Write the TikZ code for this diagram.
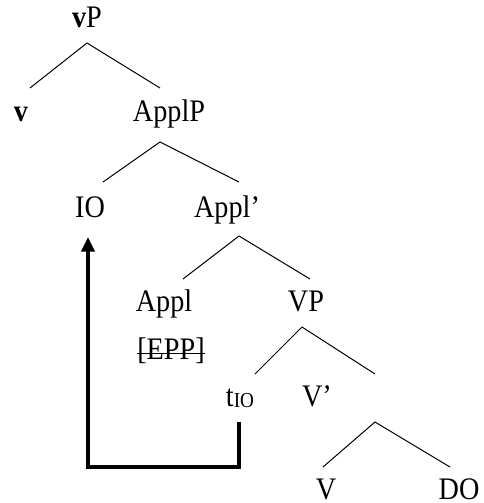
\documentclass[tikz,border=0pt]{standalone}
\usepackage{fontspec}
\setmainfont{Liberation Serif}[FakeStretch=0.9]
\usetikzlibrary{arrows.meta}
\newcommand{\trace}[1]{t\raisebox{-1pt}{\fontsize{16}{16}\selectfont #1}}
\tikzset{
  cat/.style={anchor=base, inner sep=0pt, font=\fontsize{23.5}{28}\selectfont},
  branch/.style={line width=0.75pt},
  move/.style={line width=2.5pt, -{Triangle[length=11pt,width=10pt]}}
}

\begin{document}
\begin{tikzpicture}[x=0.75pt,y=-0.75pt]
    \useasboundingbox (0,0) rectangle (483,503);

    % category labels
    \node[cat] (vP) at (87,28) {\textbf{v}P};
    \node[cat] (v) at (21,121) {\textbf{v}};
    \node[cat] (ApplP) at (169,121) {ApplP};
    \node[cat] (IO) at (90,217) {IO};
    \node[cat] (Applbar) at (227,217) {Appl’};
    \node[cat] (Appl) at (164,311) {Appl};
    \node[cat] (EPP) at (171,359) {[EPP]};
    \node[cat] (VP) at (306,311) {VP};
    \node[cat] (tIO) at (240,406) {\trace{IO}};
    \node[cat] (Vbar) at (317,406) {V’};
    \node[cat] (V) at (326,499) {V};
    \node[cat] (DO) at (459,499) {DO};

    % branching points
    \coordinate (vP-fork) at (87,43);
    \coordinate (vP-left) at (30,88);
    \coordinate (vP-right) at (160,88);
    \coordinate (ApplP-fork) at (160,142);
    \coordinate (ApplP-left) at (103,182);
    \coordinate (ApplP-right) at (239,182);
    \coordinate (Applbar-fork) at (239,236);
    \coordinate (Applbar-left) at (183,279);
    \coordinate (Applbar-right) at (310,279);
    \coordinate (VP-fork) at (302,327);
    \coordinate (VP-left) at (255,374);
    \coordinate (VP-right) at (375,374);
    \coordinate (Vbar-fork) at (375,422);
    \coordinate (Vbar-left) at (323,467);
    \coordinate (Vbar-right) at (450,467);

    \draw[branch] (vP-left) -- (vP-fork) -- (vP-right);
    \draw[branch] (ApplP-left) -- (ApplP-fork) -- (ApplP-right);
    \draw[branch] (Applbar-left) -- (Applbar-fork) -- (Applbar-right);
    \draw[branch] (VP-left) -- (VP-fork) -- (VP-right);
    \draw[branch] (Vbar-left) -- (Vbar-fork) -- (Vbar-right);

    % checked feature
    \draw[branch] ([yshift=4.5pt]EPP.base west) -- ([yshift=4.5pt]EPP.base east);

    % movement of IO
    \coordinate (tIO-foot) at (239,422);
    \coordinate (IO-foot) at (88,237);
    \draw[move] (tIO-foot) -- ++(0,45) -| (IO-foot);
\end{tikzpicture}
\end{document}
